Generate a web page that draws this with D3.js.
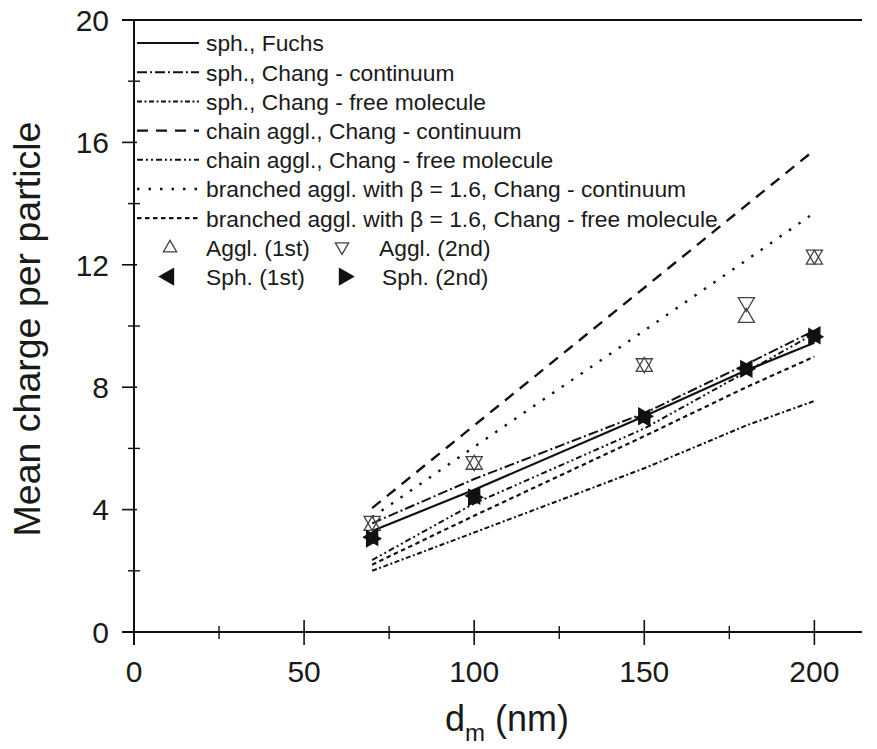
<!DOCTYPE html>
<html><head><meta charset="utf-8">
<script src="https://cdn.jsdelivr.net/npm/d3@7"></script>
<style>body{margin:0;background:#fff;} text{font-family:Arial,"Liberation Sans",sans-serif;fill:#1a1a1a;}</style>
</head><body><svg id="c" width="877" height="749"></svg>
<script>
const dm = [70, 100, 150, 180, 200];
const fuchs      = [3.3, 4.65, 7.05, 8.55, 9.45];
const sphCont    = [3.55, 5.0, 7.15, 8.75, 9.85];
const sphFree    = [2.0, 3.25, 5.35, 6.75, 7.55];
const chainCont  = [4.05, 6.75, 11.25, 13.95, 15.75];
const chainFree  = [2.35, 4.2, 6.65, 8.5, 9.75];
const branchCont = [3.75, 6.05, 9.85, 12.15, 13.7];
const branchFree = [2.2, 3.8, 6.4, 8.0, 9.0];
const aggl1 = [3.5, 5.5, 8.7, 10.3, 12.2];
const aggl2 = [3.6, 5.55, 8.75, 10.75, 12.3];
const sph1  = [3.1, 4.45, 7.0, 8.6, 9.7];
const sph2  = [3.05, 4.4, 7.05, 8.6, 9.65];
const xTicks = [0, 50, 100, 150, 200];
const yTicks = [0, 4, 8, 12, 16, 20];
const lineLabels = ["sph., Fuchs","sph., Chang - continuum","sph., Chang - free molecule","chain aggl., Chang - continuum","chain aggl., Chang - free molecule","branched aggl. with \u03b2 = 1.6, Chang - continuum","branched aggl. with \u03b2 = 1.6, Chang - free molecule"];
const markerLabels = ["Aggl. (1st)","Aggl. (2nd)","Sph. (1st)","Sph. (2nd)"];

const svg = d3.select("#c");
const x = d3.scaleLinear().domain([0, 214]).range([134, 862]);
const y = d3.scaleLinear().domain([0, 20]).range([632, 20]);
const ink = "#111";

// axes lines
svg.append("line").attr("x1",122).attr("x2",862).attr("y1",y(0)).attr("y2",y(0)).attr("stroke",ink).attr("stroke-width",2);
svg.append("line").attr("x1",x(0)).attr("x2",x(0)).attr("y1",y(20)).attr("y2",645).attr("stroke",ink).attr("stroke-width",2);
svg.append("line").attr("x1",x(0)-12).attr("x2",862).attr("y1",y(20)).attr("y2",y(20)).attr("stroke",ink).attr("stroke-width",2);

// x ticks
const xMinor = d3.range(25, 214, 50);
svg.selectAll(".xt").data(xTicks).enter().append("line").attr("x1",d=>x(d)).attr("x2",d=>x(d)).attr("y1",620).attr("y2",645).attr("stroke",ink).attr("stroke-width",1.6);
svg.selectAll(".xm").data(xMinor).enter().append("line").attr("x1",d=>x(d)).attr("x2",d=>x(d)).attr("y1",626).attr("y2",639).attr("stroke",ink).attr("stroke-width",1.4);
svg.selectAll(".xl").data(xTicks).enter().append("text").attr("x",d=>x(d)).attr("y",682).attr("text-anchor","middle").attr("font-size",30).text(d=>d);

// y ticks
const yMinor = d3.range(2, 20, 4);
svg.selectAll(".yt").data(yTicks).enter().append("line").attr("x1",122).attr("x2",x(0)+3).attr("y1",d=>y(d)).attr("y2",d=>y(d)).attr("stroke",ink).attr("stroke-width",1.6);
svg.selectAll(".ym").data(yMinor).enter().append("line").attr("x1",128).attr("x2",140).attr("y1",d=>y(d)).attr("y2",d=>y(d)).attr("stroke",ink).attr("stroke-width",1.4);
svg.selectAll(".yl").data(yTicks).enter().append("text").attr("x",109).attr("y",d=>y(d)+10.7).attr("text-anchor","end").attr("font-size",30).text(d=>d);

// axis titles
svg.append("text").attr("transform","translate(40,329) rotate(-90)").attr("text-anchor","middle").attr("font-size",37.5).text("Mean charge per particle");
const xt = svg.append("text").attr("x",507).attr("y",731).attr("text-anchor","middle").attr("font-size",36);
xt.append("tspan").text("d");
xt.append("tspan").attr("font-size",24).attr("dy",10).text("m");
xt.append("tspan").attr("dy",-10).text(" (nm)");

// lines
const series = [
  {v:fuchs, dash:null, w:2.2},
  {v:sphCont, dash:"10,3,2,3", w:2},
  {v:sphFree, dash:"5,2.5,2,2.5", w:2},
  {v:chainCont, dash:"11,8", w:2.4},
  {v:chainFree, dash:"6,3,2,3,2,3", w:2},
  {v:branchCont, dash:"2.5,9", w:2.4},
  {v:branchFree, dash:"4.5,3.5", w:2.2}
];
const line = d3.line().x(d=>x(d[0])).y(d=>y(d[1]));
series.forEach(s=>{
  svg.append("path").attr("d", line(dm.map((d,i)=>[d,s.v[i]]))).attr("fill","none").attr("stroke",ink).attr("stroke-width",s.w).attr("stroke-dasharray",s.dash);
});

// markers
const tri = (cx, cy, dir, r) => {
  let pts;
  if (dir==="up") pts=[[0,-r],[r*0.95,r*0.65],[-r*0.95,r*0.65]];
  else if (dir==="down") pts=[[0,r],[r*0.95,-r*0.65],[-r*0.95,-r*0.65]];
  else if (dir==="left") pts=[[-r,0],[r*0.65,-r*0.95],[r*0.65,r*0.95]];
  else pts=[[r,0],[-r*0.65,-r*0.95],[-r*0.65,r*0.95]];
  return "M"+pts.map(p=>[cx+p[0],cy+p[1]].join(",")).join("L")+"Z";
};
const mk = [
  {v:aggl1, dir:"up", fill:"none", r:8.5},
  {v:aggl2, dir:"down", fill:"none", r:8.5},
  {v:sph1, dir:"left", fill:ink, r:8.5},
  {v:sph2, dir:"right", fill:ink, r:8.5}
];
mk.forEach(m=>{
  svg.selectAll(null).data(dm.map((d,i)=>[d,m.v[i]])).enter().append("path")
    .attr("d",d=>tri(x(d[0]),y(d[1]),m.dir,m.r))
    .attr("fill",m.fill).attr("stroke",m.fill==="none"?"#444":ink).attr("stroke-width",1.3);
});

// legend
const rowY = i => 43 + i*29.2;
series.forEach((s,i)=>{
  svg.append("line").attr("x1",137).attr("x2",199).attr("y1",rowY(i)).attr("y2",rowY(i)).attr("stroke",ink).attr("stroke-width",s.w).attr("stroke-dasharray",s.dash);
  svg.append("text").attr("x",206).attr("y",rowY(i)+8.3).attr("font-size",22.8).text(lineLabels[i]);
});
const lm = [[170,7,"up","none",206,7],[342,7,"down","none",379,7],[168,8,"left",ink,206,8.5],[345,8,"right",ink,382,8.5]];
lm.forEach((m,i)=>{
  svg.append("path").attr("d",tri(m[0],rowY(m[1]),m[2],m[5])).attr("fill",m[3]).attr("stroke",m[3]==="none"?"#444":ink).attr("stroke-width",1.3);
  svg.append("text").attr("x",m[4]).attr("y",rowY(m[1])+8.3).attr("font-size",22.8).text(markerLabels[i]);
});
</script></body></html>
